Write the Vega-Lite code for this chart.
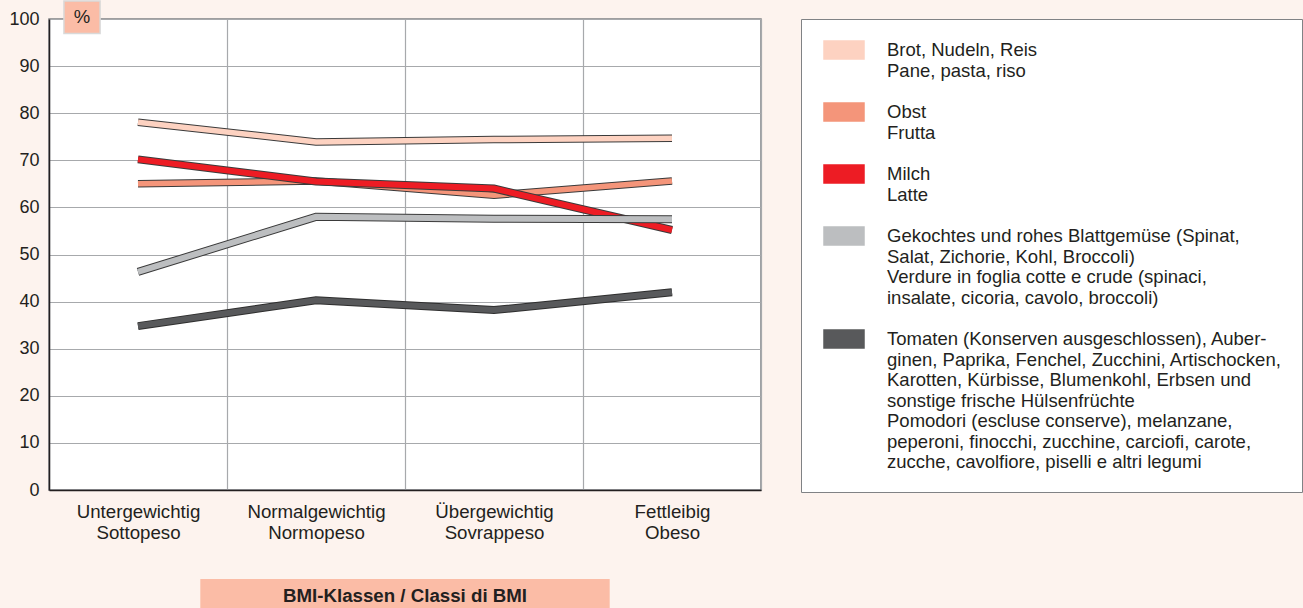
{
  "$schema": "https://vega.github.io/schema/vega-lite/v6.json",
  "width": 712,
  "height": 471,
  "autosize": {"type": "none"},
  "padding": {"left": 49, "top": 19, "right": 542, "bottom": 118},
  "background": "#fdf3ee",
  "config": {
    "font": "Liberation Sans",
    "view": {"fill": "white", "stroke": "#808285", "strokeWidth": 1.5},
    "axis": {
      "labelFont": "Liberation Sans",
      "labelFontSize": 18,
      "labelColor": "#231f20",
      "gridColor": "#a7a9ac",
      "gridWidth": 1.2,
      "domainColor": "#231f20",
      "domainWidth": 1.5,
      "ticks": false,
      "title": null
    },
    "legend": {"symbolStrokeColor": "#231f20", "symbolStrokeWidth": 1.5}
  },
  "data": {
    "values": [
      {"bmi": "Untergewichtig Sottopeso", "food": "Brot, Nudeln, Reis\nPane, pasta, riso", "pct": 78.1},
      {"bmi": "Normalgewichtig Normopeso", "food": "Brot, Nudeln, Reis\nPane, pasta, riso", "pct": 73.9},
      {"bmi": "Übergewichtig Sovrappeso", "food": "Brot, Nudeln, Reis\nPane, pasta, riso", "pct": 74.4},
      {"bmi": "Fettleibig Obeso", "food": "Brot, Nudeln, Reis\nPane, pasta, riso", "pct": 74.7},
      {"bmi": "Untergewichtig Sottopeso", "food": "Obst\nFrutta", "pct": 65.0},
      {"bmi": "Normalgewichtig Normopeso", "food": "Obst\nFrutta", "pct": 65.6},
      {"bmi": "Übergewichtig Sovrappeso", "food": "Obst\nFrutta", "pct": 62.6},
      {"bmi": "Fettleibig Obeso", "food": "Obst\nFrutta", "pct": 65.6},
      {"bmi": "Untergewichtig Sottopeso", "food": "Milch\nLatte", "pct": 70.2},
      {"bmi": "Normalgewichtig Normopeso", "food": "Milch\nLatte", "pct": 65.5},
      {"bmi": "Übergewichtig Sovrappeso", "food": "Milch\nLatte", "pct": 64.0},
      {"bmi": "Fettleibig Obeso", "food": "Milch\nLatte", "pct": 55.2},
      {"bmi": "Untergewichtig Sottopeso", "food": "Gekochtes und rohes Blattgemüse (Spinat,\nSalat, Zichorie, Kohl, Broccoli)\nVerdure in foglia cotte e crude (spinaci,\ninsalate, cicoria, cavolo, broccoli)", "pct": 46.3},
      {"bmi": "Normalgewichtig Normopeso", "food": "Gekochtes und rohes Blattgemüse (Spinat,\nSalat, Zichorie, Kohl, Broccoli)\nVerdure in foglia cotte e crude (spinaci,\ninsalate, cicoria, cavolo, broccoli)", "pct": 58.0},
      {"bmi": "Übergewichtig Sovrappeso", "food": "Gekochtes und rohes Blattgemüse (Spinat,\nSalat, Zichorie, Kohl, Broccoli)\nVerdure in foglia cotte e crude (spinaci,\ninsalate, cicoria, cavolo, broccoli)", "pct": 57.6},
      {"bmi": "Fettleibig Obeso", "food": "Gekochtes und rohes Blattgemüse (Spinat,\nSalat, Zichorie, Kohl, Broccoli)\nVerdure in foglia cotte e crude (spinaci,\ninsalate, cicoria, cavolo, broccoli)", "pct": 57.5},
      {"bmi": "Untergewichtig Sottopeso", "food": "Tomaten (Konserven ausgeschlossen), Auber-\nginen, Paprika, Fenchel, Zucchini, Artischocken,\nKarotten, Kürbisse, Blumenkohl, Erbsen und\nsonstige frische Hülsenfrüchte\nPomodori (escluse conserve), melanzane,\npeperoni, finocchi, zucchine, carciofi, carote,\nzucche, cavolfiore, piselli e altri legumi", "pct": 34.8},
      {"bmi": "Normalgewichtig Normopeso", "food": "Tomaten (Konserven ausgeschlossen), Auber-\nginen, Paprika, Fenchel, Zucchini, Artischocken,\nKarotten, Kürbisse, Blumenkohl, Erbsen und\nsonstige frische Hülsenfrüchte\nPomodori (escluse conserve), melanzane,\npeperoni, finocchi, zucchine, carciofi, carote,\nzucche, cavolfiore, piselli e altri legumi", "pct": 40.3},
      {"bmi": "Übergewichtig Sovrappeso", "food": "Tomaten (Konserven ausgeschlossen), Auber-\nginen, Paprika, Fenchel, Zucchini, Artischocken,\nKarotten, Kürbisse, Blumenkohl, Erbsen und\nsonstige frische Hülsenfrüchte\nPomodori (escluse conserve), melanzane,\npeperoni, finocchi, zucchine, carciofi, carote,\nzucche, cavolfiore, piselli e altri legumi", "pct": 38.2},
      {"bmi": "Fettleibig Obeso", "food": "Tomaten (Konserven ausgeschlossen), Auber-\nginen, Paprika, Fenchel, Zucchini, Artischocken,\nKarotten, Kürbisse, Blumenkohl, Erbsen und\nsonstige frische Hülsenfrüchte\nPomodori (escluse conserve), melanzane,\npeperoni, finocchi, zucchine, carciofi, carote,\nzucche, cavolfiore, piselli e altri legumi", "pct": 42.0}
    ]
  },
  "encoding": {
    "x": {
      "field": "bmi",
      "type": "nominal",
      "scale": {
        "domain": ["Untergewichtig Sottopeso", "Normalgewichtig Normopeso", "Übergewichtig Sovrappeso", "Fettleibig Obeso"],
        "paddingInner": 0,
        "paddingOuter": 0
      },
      "axis": {
        "labelExpr": "split(datum.label, ' ')",
        "labelAngle": 0,
        "labelFontSize": 18.7,
        "labelLineHeight": 21,
        "labelPadding": 12,
        "tickBand": "extent",
        "grid": true
      }
    },
    "y": {
      "field": "pct",
      "type": "quantitative",
      "scale": {"domain": [0, 100], "nice": false, "zero": true},
      "axis": {"values": [0, 10, 20, 30, 40, 50, 60, 70, 80, 90, 100], "labelPadding": 10, "grid": true}
    },
    "stroke": {
      "field": "food",
      "type": "nominal",
      "scale": {
        "domain": [
          "Brot, Nudeln, Reis\nPane, pasta, riso",
          "Obst\nFrutta",
          "Milch\nLatte",
          "Gekochtes und rohes Blattgemüse (Spinat,\nSalat, Zichorie, Kohl, Broccoli)\nVerdure in foglia cotte e crude (spinaci,\ninsalate, cicoria, cavolo, broccoli)",
          "Tomaten (Konserven ausgeschlossen), Auber-\nginen, Paprika, Fenchel, Zucchini, Artischocken,\nKarotten, Kürbisse, Blumenkohl, Erbsen und\nsonstige frische Hülsenfrüchte\nPomodori (escluse conserve), melanzane,\npeperoni, finocchi, zucchine, carciofi, carote,\nzucche, cavolfiore, piselli e altri legumi"
        ],
        "range": ["#fdd2c1", "#f4957a", "#ed1c24", "#bcbec0", "#58595b"]
      },
      "legend": null
    },
    "fill": {
      "field": "food",
      "type": "nominal",
      "scale": {
        "domain": [
          "Brot, Nudeln, Reis\nPane, pasta, riso",
          "Obst\nFrutta",
          "Milch\nLatte",
          "Gekochtes und rohes Blattgemüse (Spinat,\nSalat, Zichorie, Kohl, Broccoli)\nVerdure in foglia cotte e crude (spinaci,\ninsalate, cicoria, cavolo, broccoli)",
          "Tomaten (Konserven ausgeschlossen), Auber-\nginen, Paprika, Fenchel, Zucchini, Artischocken,\nKarotten, Kürbisse, Blumenkohl, Erbsen und\nsonstige frische Hülsenfrüchte\nPomodori (escluse conserve), melanzane,\npeperoni, finocchi, zucchine, carciofi, carote,\nzucche, cavolfiore, piselli e altri legumi"
        ],
        "range": ["#fdd2c1", "#f4957a", "#ed1c24", "#bcbec0", "#58595b"]
      },
      "legend": {
        "title": null,
        "orient": "right",
        "offset": 40,
        "padding": 20,
        "fillColor": "white",
        "strokeColor": "#808285",
        "labelExpr": "split(datum.label, '\\n')",
        "labelFont": "Liberation Sans",
        "labelFontSize": 18.5,
        "labelLineHeight": 20.5,
        "labelLimit": 600,
        "labelColor": "#231f20",
        "labelOffset": 32,
        "rowPadding": 20,
        "symbolType": "M-2,-0.9H2V0.9H-2Z",
        "symbolSize": 400,
        "symbolOffset": 12,
        "symbolStrokeColor": "#231f20",
        "symbolStrokeWidth": 1.5,
        "encode": {
          "symbols": {
            "update": {
              "stroke": {"value": "#231f20"},
              "strokeWidth": {"value": 1.5},
              "strokeOpacity": {"value": 1},
              "fillOpacity": {"value": 1},
              "opacity": {"value": 1}
            }
          }
        }
      }
    }
  },
  "layer": [
    {"transform": [{"filter": "indexof(datum.food, 'Brot') === 0"}], "mark": {"type": "line", "fillOpacity": 0, "strokeWidth": 7.5, "strokeCap": "butt", "strokeJoin": "miter"}, "encoding": {"stroke": {"value": "#3a3a3a"}}},
    {"transform": [{"filter": "indexof(datum.food, 'Brot') === 0"}], "mark": {"type": "line", "fillOpacity": 0, "strokeWidth": 5.5, "strokeCap": "butt", "strokeJoin": "miter"}},
    {"transform": [{"filter": "indexof(datum.food, 'Obst') === 0"}], "mark": {"type": "line", "fillOpacity": 0, "strokeWidth": 7.5, "strokeCap": "butt", "strokeJoin": "miter"}, "encoding": {"stroke": {"value": "#3a3a3a"}}},
    {"transform": [{"filter": "indexof(datum.food, 'Obst') === 0"}], "mark": {"type": "line", "fillOpacity": 0, "strokeWidth": 5.5, "strokeCap": "butt", "strokeJoin": "miter"}},
    {"transform": [{"filter": "indexof(datum.food, 'Milch') === 0"}], "mark": {"type": "line", "fillOpacity": 0, "strokeWidth": 8, "strokeCap": "butt", "strokeJoin": "miter"}, "encoding": {"stroke": {"value": "#3a3a3a"}}},
    {"transform": [{"filter": "indexof(datum.food, 'Milch') === 0"}], "mark": {"type": "line", "fillOpacity": 0, "strokeWidth": 6, "strokeCap": "butt", "strokeJoin": "miter"}},
    {"transform": [{"filter": "indexof(datum.food, 'Gekochtes') === 0"}], "mark": {"type": "line", "fillOpacity": 0, "strokeWidth": 8, "strokeCap": "butt", "strokeJoin": "miter"}, "encoding": {"stroke": {"value": "#3a3a3a"}}},
    {"transform": [{"filter": "indexof(datum.food, 'Gekochtes') === 0"}], "mark": {"type": "line", "fillOpacity": 0, "strokeWidth": 6, "strokeCap": "butt", "strokeJoin": "miter"}},
    {"transform": [{"filter": "indexof(datum.food, 'Tomaten') === 0"}], "mark": {"type": "line", "fillOpacity": 0, "strokeWidth": 8, "strokeCap": "butt", "strokeJoin": "miter"}, "encoding": {"stroke": {"value": "#2e2e2e"}}},
    {"transform": [{"filter": "indexof(datum.food, 'Tomaten') === 0"}], "mark": {"type": "line", "fillOpacity": 0, "strokeWidth": 6, "strokeCap": "butt", "strokeJoin": "miter"}},
    {
      "transform": [{"filter": "datum.bmi === 'Fettleibig Obeso' && indexof(datum.food, 'Brot') === 0"}],
      "mark": {"type": "rect", "strokeWidth": 1.5},
      "encoding": {
        "x": {"datum": "Untergewichtig Sottopeso", "type": "nominal", "bandPosition": 0.084},
        "x2": {"datum": "Untergewichtig Sottopeso", "bandPosition": 0.287},
        "y": {"datum": 96.9, "type": "quantitative"},
        "y2": {"datum": 103.8},
        "fill": {"value": "#fbbca6"},
        "stroke": {"value": "#d9d9d9"}
      }
    },
    {
      "transform": [{"filter": "datum.bmi === 'Fettleibig Obeso' && indexof(datum.food, 'Brot') === 0"}],
      "mark": {"type": "text", "fontSize": 18.5, "align": "center", "baseline": "middle", "font": "Liberation Sans"},
      "encoding": {
        "x": {"datum": "Untergewichtig Sottopeso", "type": "nominal", "bandPosition": 0.185},
        "y": {"datum": 100.4, "type": "quantitative"},
        "text": {"value": "%"},
        "fill": {"value": "#231f20"},
        "stroke": {"value": null}
      }
    },
    {
      "transform": [{"filter": "datum.bmi === 'Fettleibig Obeso' && indexof(datum.food, 'Brot') === 0"}],
      "mark": {"type": "rect"},
      "encoding": {
        "x": {"datum": "Untergewichtig Sottopeso", "type": "nominal", "bandPosition": 0.85},
        "x2": {"datum": "Fettleibig Obeso", "bandPosition": 0.15},
        "y": {"datum": -18.9, "type": "quantitative"},
        "y2": {"datum": -27},
        "fill": {"value": "#fbbca6"},
        "stroke": {"value": null}
      }
    },
    {
      "transform": [{"filter": "datum.bmi === 'Fettleibig Obeso' && indexof(datum.food, 'Brot') === 0"}],
      "mark": {"type": "text", "fontSize": 18.7, "fontWeight": "bold", "align": "center", "baseline": "middle", "font": "Liberation Sans"},
      "encoding": {
        "x": {"datum": "Normalgewichtig Normopeso", "type": "nominal", "bandPosition": 1},
        "y": {"datum": -22.6, "type": "quantitative"},
        "text": {"value": "BMI-Klassen / Classi di BMI"},
        "fill": {"value": "#231f20"},
        "stroke": {"value": null}
      }
    }
  ]
}
